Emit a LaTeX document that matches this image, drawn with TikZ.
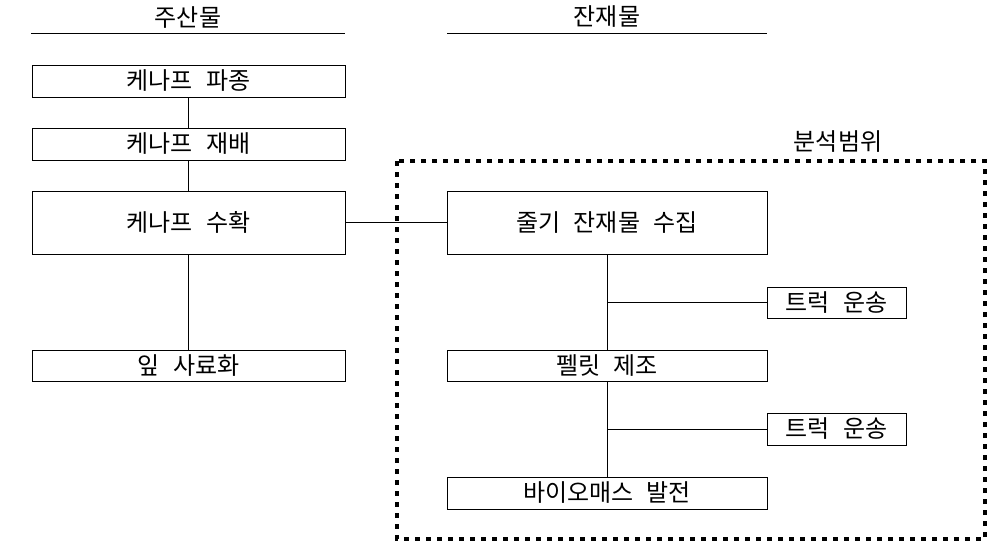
\documentclass[tikz,border=0pt]{standalone}
\usepackage{fontspec}
\setmainfont[WordSpace=2.5]{Noto Sans CJK KR}
\tikzset{
  stagebox/.style={draw, line width=1pt, minimum width=313pt, inner sep=0pt, font=\fontsize{24}{28}\selectfont},
  resbox/.style={stagebox, minimum width=320pt},
  truckbox/.style={stagebox, minimum width=139pt},
  headlabel/.style={inner sep=0pt, font=\fontsize{24}{28}\selectfont},
  scopeline/.style={line width=4pt, dash pattern=on 5pt off 6pt}
}
\begin{document}
\begin{tikzpicture}[x=1pt,y=-1pt,line width=1pt]
\useasboundingbox (0,0) rectangle (988,558);
% headers
\node[headlabel] (mainhead) at (188,17) {주산물};
\draw (31,33) -- (345,33);
\node[headlabel] (reshead) at (607,17) {잔재물};
\draw (447,33) -- (767,33);
% scope of analysis
\draw[scopeline] (397,161) rectangle (985,539);
\node[headlabel] (scopehead) at (838,142) {분석범위};
% main products
\node[stagebox, minimum height=32pt] (sowing) at (188.5,81) {케나프 파종};
\node[stagebox, minimum height=32pt] (growing) at (188.5,144) {케나프 재배};
\node[stagebox, minimum height=63pt] (harvest) at (188.5,222.5) {케나프 수확};
\node[stagebox, minimum height=31pt] (feed) at (188.5,365.5) {잎 사료화};
% residues
\node[resbox, minimum height=63pt] (collect) at (607,222.5) {줄기 잔재물 수집};
\node[resbox, minimum height=31pt] (pellet) at (607,365.5) {펠릿 제조};
\node[resbox, minimum height=32pt] (power) at (607,493) {바이오매스 발전};
\node[truckbox, minimum height=31pt] (truckA) at (836.5,302.5) {트럭 운송};
\node[truckbox, minimum height=32pt] (truckB) at (836.5,429) {트럭 운송};
% links
\draw (sowing) -- (growing);
\draw (growing) -- (harvest);
\draw (harvest) -- (feed);
\draw (harvest) -- (collect);
\draw (collect) -- (pellet);
\draw (pellet) -- (power);
\draw (truckA.west) -- (truckA.west -| collect.south);
\draw (truckB.west) -- (truckB.west -| pellet.south);
\end{tikzpicture}
\end{document}
